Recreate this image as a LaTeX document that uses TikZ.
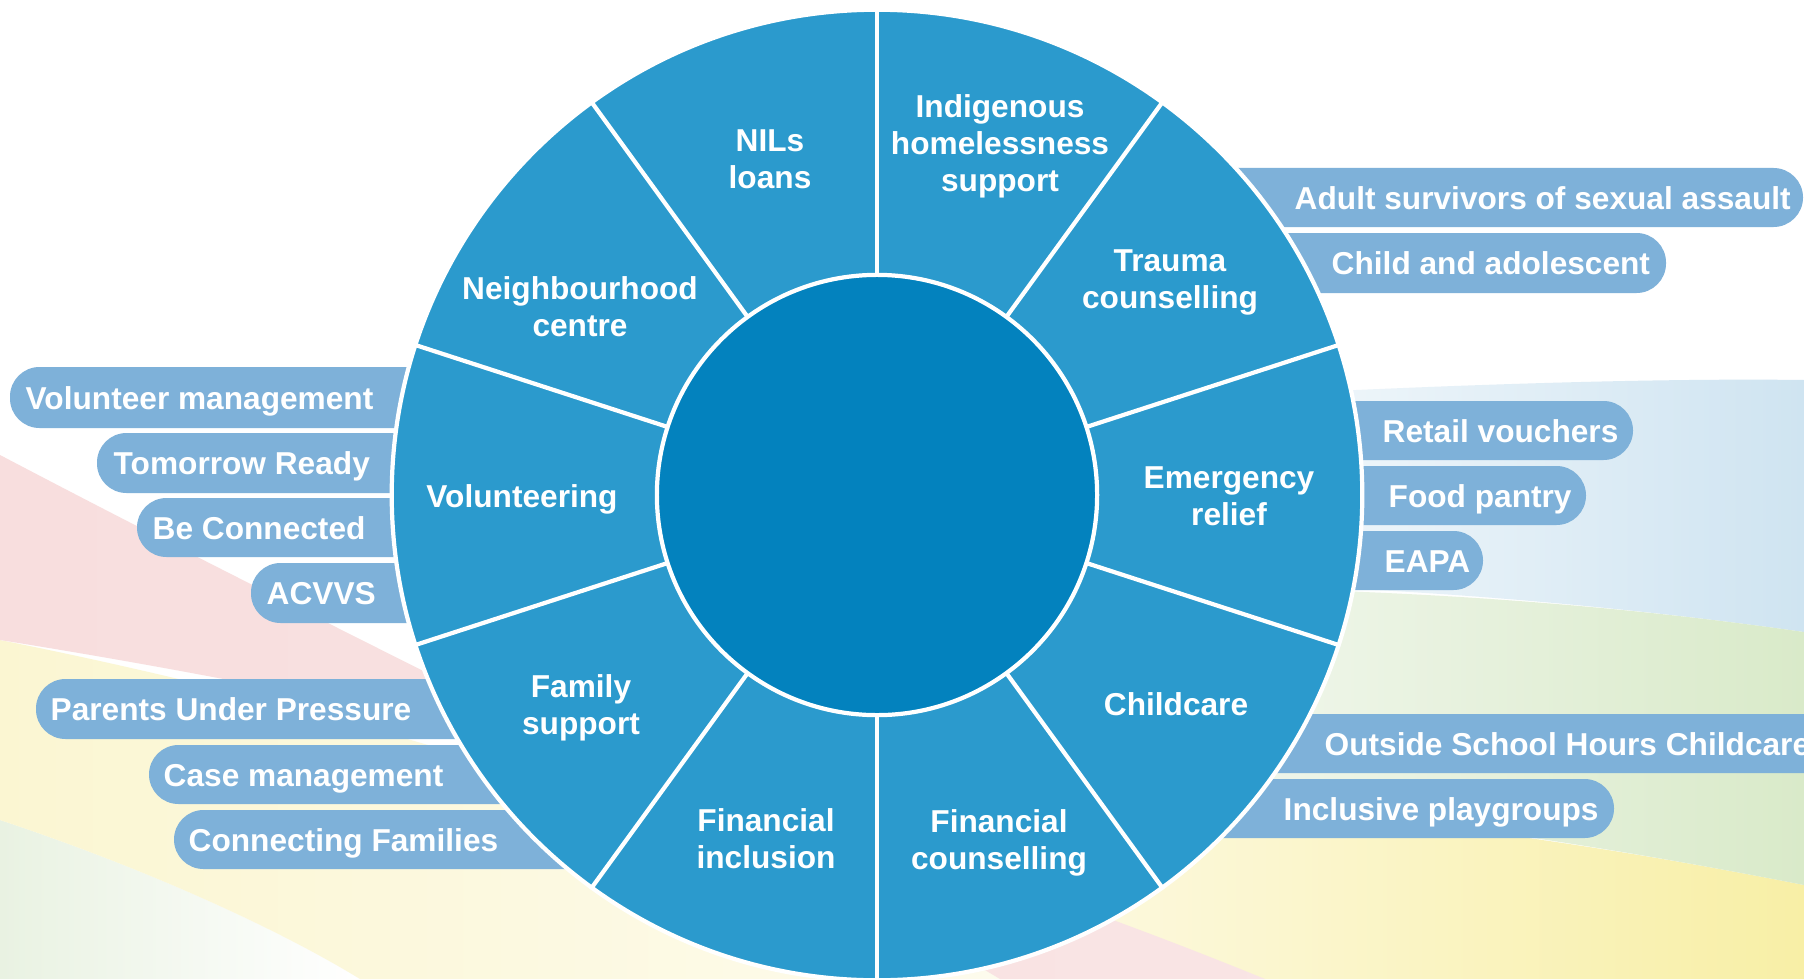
\documentclass[tikz,border=0pt]{standalone}
\usepackage{fontspec}
\setmainfont{Liberation Sans}
\definecolor{segblue}{HTML}{2B9ACD}
\definecolor{coreblue}{HTML}{0382BE}
\definecolor{pillblue}{HTML}{7EB1D9}
\definecolor{bgpink}{HTML}{F8DEDE}
\definecolor{bgyellow}{HTML}{FBF6D2}
\definecolor{bgyellowdeep}{HTML}{F8EFA6}
\definecolor{bggreen}{HTML}{D9EAC9}
\definecolor{bggreenpale}{HTML}{E9F2E2}
\definecolor{bgblue}{HTML}{CFE4F1}
\begin{document}
\begin{tikzpicture}[x=0.01cm,y=-0.01cm,
  lbl/.style={text=white,font=\bfseries\fontsize{9.0pt}{10.53pt}\selectfont,inner sep=0pt,align=center},
  pilltext/.style={lbl,anchor=base west},
  pill/.style={fill=pillblue,rounded corners=0.295cm},
  divider/.style={draw=white,line width=1.2pt},
  rim/.style={draw=white,line width=1.2pt}]
\useasboundingbox (0,0) rectangle (1804,979);
\fill[white] (0,0) rectangle (1804,979);
% background swooshes
\shade[left color=bggreenpale,right color=white] (0,820) .. controls (150,870) and (280,930) .. (360,979) -- (0,979) -- cycle;
\shade[left color=bgyellow,right color=bgyellow!40] (0,640) .. controls (400,720) and (800,850) .. (1000,979) -- (360,979) .. controls (280,930) and (150,870) .. (0,820) -- cycle;
\shade[left color=bgyellow!60,right color=bgyellowdeep] (1000,780) .. controls (1400,815) and (1600,845) .. (1804,885) -- (1804,979) -- (1000,979) -- cycle;
\shade[left color=bgpink,right color=bgpink!80] (0,455) .. controls (400,665) and (700,800) .. (1000,979) -- (1265,979) .. controls (900,830) and (500,720) .. (0,640) -- cycle;
\shade[left color=bgblue!25,right color=bgblue] (1250,395) .. controls (1450,385) and (1650,378) .. (1804,380) -- (1804,632) .. controls (1650,610) and (1450,590) .. (1250,585) -- cycle;
\shade[left color=bggreenpale!60,right color=bggreen] (1200,588) .. controls (1450,590) and (1650,610) .. (1804,632) -- (1804,885) .. controls (1600,845) and (1400,815) .. (1200,800) -- cycle;
% pills left
\fill[pill] (10,367) rectangle (720,428);
\fill[pill] (97,433) rectangle (720,493);
\fill[pill] (137,498) rectangle (720,557);
\fill[pill] (251,563) rectangle (720,623);
\fill[pill] (36,679) rectangle (760,739);
\fill[pill] (149,745) rectangle (780,804);
\fill[pill] (174,810) rectangle (820,869);
% pills right
\fill[pill] (1000,168) rectangle (1803,227);
\fill[pill] (1000,233) rectangle (1666,293);
\fill[pill] (1000,401) rectangle (1633,460);
\fill[pill] (1000,466) rectangle (1586,525);
\fill[pill] (1000,531) rectangle (1483,590);
\fill[pill] (1000,714) rectangle (1840,773);
\fill[pill] (1000,779) rectangle (1614,838);
% wheel
\coordinate (C) at (877,495);
\filldraw[fill=segblue,rim] (C) circle [radius=4.85cm];
\begin{scope}[shift={(C)}]
\foreach \a in {90,54,18,-18,-54,-90,-126,-162,162,126}
  \draw[divider] (\a:2.2cm) -- (\a:4.87cm);
\end{scope}
\filldraw[fill=coreblue,rim] (C) circle [radius=2.2cm];
% segment labels
\node[lbl] (nils) at (770,159) {NILs\\loans};
\node[lbl] (indig) at (1000,146.5) {Indigenous\\homelessness\\support};
\node[lbl] (trauma) at (1170,282.5) {Trauma\\counselling};
\node[lbl] (emerg) at (1229,496) {Emergency\\relief};
\node[lbl] (child) at (1176,704) {Childcare};
\node[lbl] (fincoun) at (999,842.5) {Financial\\counselling};
\node[lbl] (fininc) at (766,839) {Financial\\inclusion};
\node[lbl] (family) at (581,707.5) {Family\\support};
\node[lbl] (volun) at (522,499) {Volunteering};
\node[lbl] (neigh) at (580,307) {Neighbourhood\\centre};
% pill labels left
\node[pilltext] (vm) at (25,409) {Volunteer management};
\node[pilltext] (tr) at (113,474) {Tomorrow Ready};
\node[pilltext] (bc) at (152,539) {Be Connected};
\node[pilltext] (ac) at (266,604) {ACVVS};
\node[pilltext] (pup) at (50,720) {Parents Under Pressure};
\node[pilltext] (cm) at (163,786) {Case management};
\node[pilltext] (cf) at (188,851) {Connecting Families};
% pill labels right
\node[pilltext] (as) at (1294,209) {Adult survivors of sexual assault};
\node[pilltext] (ca) at (1331,274) {Child and adolescent};
\node[pilltext] (rv) at (1382,442) {Retail vouchers};
\node[pilltext] (fp) at (1388,507) {Food pantry};
\node[pilltext] (ea) at (1384,572) {EAPA};
\node[pilltext] (os) at (1324,755) {Outside School Hours Childcare};
\node[pilltext] (ip) at (1283,820) {Inclusive playgroups};
\end{tikzpicture}
\end{document}
